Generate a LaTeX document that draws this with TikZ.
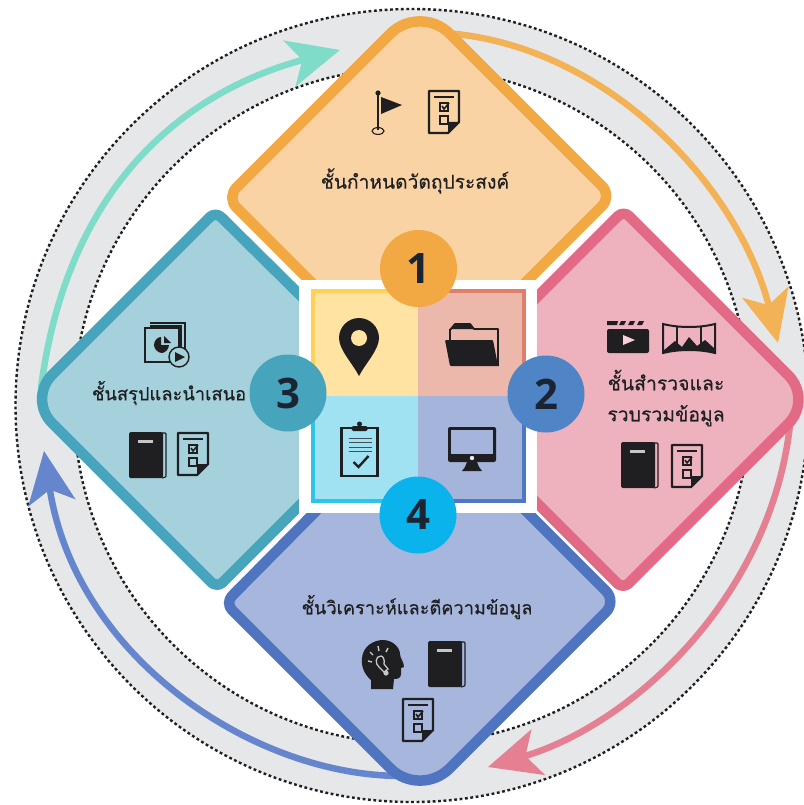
\documentclass[tikz,border=0pt]{standalone}
\usepackage{fontspec}
\usetikzlibrary{arrows.meta}
\newfontfamily\thaifont[Script=Thai,FakeBold=0.35]{Loma}
\newfontfamily\numfont{Open Sans}
\definecolor{ink}{HTML}{1F1F22}
\definecolor{numink}{HTML}{1B2433}
\definecolor{ringgray}{HTML}{E6E7E9}
\definecolor{orgB}{HTML}{F2A944}\definecolor{orgF}{HTML}{FAD3A4}
\definecolor{pnkB}{HTML}{E26A85}\definecolor{pnkF}{HTML}{EEB1BE}
\definecolor{tealB}{HTML}{47A4BD}\definecolor{tealF}{HTML}{A5D1DC}
\definecolor{bluB}{HTML}{4F75C0}\definecolor{bluF}{HTML}{A6B6DC}
\definecolor{qYF}{HTML}{FFE3A3}\definecolor{qYB}{HTML}{FFD257}
\definecolor{qRF}{HTML}{EDB8AC}\definecolor{qRB}{HTML}{DF7F6A}
\definecolor{qCF}{HTML}{A0E1F2}\definecolor{qCB}{HTML}{2FC4E6}
\definecolor{qBF}{HTML}{A5B4DB}\definecolor{qBB}{HTML}{4F78C4}
\definecolor{arrT}{HTML}{7FDCC8}\definecolor{arrO}{HTML}{F3B256}
\definecolor{arrP}{HTML}{E57F92}\definecolor{arrB}{HTML}{6585CC}
\definecolor{disc4}{HTML}{0BB3EC}\definecolor{disc2}{HTML}{4F85C6}
\tikzset{
 x=1pt,y=-1pt,
 dotring/.style={draw=ink,line width=2.4pt,dash pattern=on 2.8pt off 2.6pt},
 diamondbox/.style={line width=10.5pt,line join=round},
 quad/.style={line width=4.5pt},
 numdisc/.style={circle,minimum size=77pt,inner sep=0pt,font=\numfont\bfseries\fontsize{42}{42}\selectfont,text=numink},
 captext/.style={inner sep=0pt,text=ink,align=center,font=\thaifont\fontsize{#1}{31}\selectfont},
 sweep/.style={line width=6.5pt,-{Stealth[length=52pt,width=47pt,inset=13pt]}},
 docicon/.pic={
  \draw[ink,line width=2.4pt,line join=round] (-15,-21) -- (15,-21) -- (15,10) -- (4,21) -- (-15,21) -- cycle;
  \fill[ink] (15,10) -- (4,21) -- (4,10) -- cycle;
  \draw[ink,line width=1.3pt] (-10,-15) -- (10,-15);
  \draw[ink,line width=1.2pt] (-4,-9) rectangle (4,-1);
  \draw[ink,line width=1.2pt] (-4,4) rectangle (4,12);
  \draw[ink,line width=1.6pt] (-2,-6) -- (0,-3) -- (5,-9);
 },
 bookicon/.pic={
  \fill[ink,rounded corners=1.5pt] (-19,-23) rectangle (15,23);
  \draw[ink,line width=1.1pt,rounded corners=1pt] (14,-22) -- (18,-22) -- (18,22) -- (14,23);
  \fill[white!75!ink] (-10,-15) rectangle (5,-12);
 },
 flagicon/.pic={
  \draw[ink,line width=2.2pt] (0,-16) -- (0,19);
  \fill[ink] (0,-18) circle[radius=2.6];
  \fill[ink] (3,-14) -- (24,-6) -- (3,3) -- cycle;
  \draw[ink,line width=1.1pt] (0,20) ellipse[x radius=6,y radius=3.4];
 },
 pinicon/.pic={
  \fill[ink] (-20,0) .. controls (-20,-11) and (-11,-20) .. (0,-20) .. controls (11,-20) and (20,-11) .. (20,0) .. controls (20,12) and (6,26) .. (0,38) .. controls (-6,26) and (-20,12) .. (-20,0) -- cycle;
  \fill[qYF] (0,0) circle[radius=8];
 },
 foldericon/.pic={
  \draw[ink,line width=1.8pt,line join=round] (-22,-14) -- (-17,-20) -- (-2,-20) -- (2,-15) -- (26,-15) -- (26,22);
  \fill[ink] (-17,-20) -- (-2,-20) -- (2,-15) -- (-22,-15) -- cycle;
  \draw[ink,line width=1.8pt] (-22,-15) -- (-22,-4);
  \fill[ink,rounded corners=1pt] (-27,-4) -- (21,-4) -- (26,22) -- (-22,22) -- cycle;
 },
 monitoricon/.pic={
  \fill[ink,rounded corners=2pt] (-24,-18) rectangle (24,17);
  \fill[qBF] (-21,-15) rectangle (21,9);
  \fill[white!70!qBF] (0,13) circle[radius=2.2];
  \fill[ink] (-5,17) -- (5,17) -- (7,22) -- (10,26) -- (-10,26) -- (-7,22) -- cycle;
 },
 clipicon/.pic={
  \draw[ink,line width=2.2pt] (-18,-22) rectangle (18,26);
  \fill[ink,rounded corners=1.5pt] (-8,-24) rectangle (8,-19);
  \fill[ink] (0,-26) circle[radius=2.5];
  \foreach \ly in {-12,-8,-3,1}{\draw[ink!75!qCF,line width=1pt] (-11,\ly) -- (12,\ly);}
  \draw[ink,line width=2.4pt] (-6,12) -- (-1,17) -- (9,6);
 },
 clappericon/.pic={
  \fill[ink,rounded corners=2pt] (-21,-8) rectangle (21,16);
  \fill[ink] (-21,-16) -- (-10,-16) -- (-11,-12) -- (-21,-12) -- cycle;
  \foreach \sx in {-7,2,11}{\fill[ink] (\sx,-16) -- (\sx+5,-16) -- (\sx+3,-12) -- (\sx-2,-12) -- cycle;}
  \fill[pnkF!60!white] (-5,-2) -- (7,3) -- (-5,8) -- cycle;
 },
 panoicon/.pic={
  \fill[ink] (-26,13) -- (-14,3) -- (-7,9) -- (0,-1) -- (8,8) -- (16,2) -- (26,11) -- (26,15) .. controls (10,11) and (-10,11) .. (-26,15) -- cycle;
  \draw[ink,line width=2pt] (-26,-14) .. controls (-10,-10) and (10,-10) .. (26,-14) -- (26,15) .. controls (10,11) and (-10,11) .. (-26,15) -- cycle;
  \draw[ink,line width=1.5pt] (-12,-11) -- (-12,12) (12,-11) -- (12,12);
 },
 slideicon/.pic={
  \draw[ink,line width=1.5pt] (-16,-21) -- (19,-21) -- (19,11);
  \draw[ink,line width=1.5pt] (-16,-18) -- (15,-18) -- (15,10);
  \draw[ink,line width=2.2pt,fill=tealF] (-21,-16) rectangle (13,18);
  \fill[ink] (-12,1) .. controls (-12,-4) and (-8,-7) .. (-5,-7) -- (-5,1) -- (3,1) .. controls (3,5) and (-1,9) .. (-4,9) .. controls (-8,9) and (-12,5) .. (-12,1) -- cycle;
  \fill[ink] (-2,-8) -- (5,-1) -- (-2,-1) -- cycle;
  \draw[ink,line width=1.4pt,fill=tealF] (13,13) circle[radius=10];
  \fill[ink] (9,8) -- (19,13) -- (9,18) -- cycle;
 },
 headicon/.pic={
  \fill[ink] (-11,25) -- (-11,16) .. controls (-18,10) and (-21,2) .. (-20,-6) .. controls (-19,-18) and (-8,-24) .. (1,-24) .. controls (11,-24) and (18,-16) .. (18,-10) .. controls (18,-6) and (22,-2) .. (22,3) -- (19,4) -- (19,10) .. controls (19,14) and (16,15) .. (12,15) -- (11,25) -- cycle;
  \draw[white!75!ink,line width=1.3pt] (-1,-8) .. controls (-7,-8) and (-7,0) .. (-3,3) -- (2,8) -- (6,5) -- (2,0) .. controls (3,-4) and (1,-8) .. (-1,-8) -- cycle;
  \fill[white!75!ink] (4,9) circle[radius=2.6];
  \draw[white!75!ink,line width=1.4pt] (-10,-2) -- (-14,-3) (-9,-9) -- (-12,-12) (-3,-13) -- (-4,-18) (4,-12) -- (6,-16);
 },
}
\begin{document}
\begin{tikzpicture}
\useasboundingbox (0,0) rectangle (803,805);
\fill[white] (0,0) rectangle (803,805);
% ring
\fill[ringgray,even odd rule] (412,405.5) circle[radius=396.5] (412,405.5) circle[radius=338];
\draw[dotring] (412,405.5) circle[radius=396.5];
\draw[dotring] (412,405.5) circle[radius=338];
% connector ends
\coordinate (tealS) at (41,388);
\coordinate (tealE) at (340,50);
\coordinate (orgS) at (445,33);
\coordinate (orgE) at (778,343);
\coordinate (pnkS) at (790,425);
\coordinate (pnkE) at (488,767);
\coordinate (bluS) at (400,776);
\coordinate (bluE) at (44,451);
% connectors
\draw[sweep,draw=arrT] (tealS) .. controls (68,180) and (190,90) .. (tealE);
\draw[sweep,draw=arrO] (orgS) .. controls (610,45) and (740,190) .. (orgE);
\draw[sweep,draw=arrP] (pnkS) .. controls (770,600) and (630,725) .. (pnkE);
\draw[sweep,draw=arrB] (bluS) .. controls (250,775) and (75,655) .. (bluE);
% diamonds
\filldraw[diamondbox,draw=orgB,fill=orgF,rounded corners=42pt] (420,4) [rounded corners=14pt] -- (612,196) [sharp corners] -- (520,288) -- (317,288) [rounded corners=14pt] -- (226.5,197.5) [rounded corners=42pt] -- cycle;
\filldraw[diamondbox,draw=pnkB,fill=pnkF] (623.5,210.5) [rounded corners=34pt] -- (812.5,399.5) [rounded corners=8pt] -- (623,589) [sharp corners] -- (530,496) -- (530,304) [rounded corners=8pt] -- cycle;
\filldraw[diamondbox,draw=tealB,fill=tealF] (28,399) [rounded corners=8pt] -- (217,588) [sharp corners] -- (305,500) -- (305,300) [rounded corners=8pt] -- (215.5,211.5) [rounded corners=34pt] -- cycle;
\filldraw[diamondbox,draw=bluB,fill=bluF,rounded corners=42pt] (420,798) [rounded corners=15pt] -- (616.5,601.5) [sharp corners] -- (520,505) -- (322,505) [rounded corners=10pt] -- (225,603) [rounded corners=42pt] -- cycle;
% centre square
\fill[white] (299,280) rectangle (537,513);
\fill[qYF] (311,289) rectangle (418,396);
\fill[qRF] (418,289) rectangle (526,396);
\fill[qCF] (311,396) rectangle (418,503);
\fill[qBF] (418,396) rectangle (526,503);
\draw[quad,qYB] (313,396) -- (313,291) -- (418,291);
\draw[quad,qRB] (418,291) -- (524,291) -- (524,396);
\draw[quad,qCB] (313,396) -- (313,501) -- (418,501);
\draw[quad,qBB] (418,501) -- (524,501) -- (524,396);
% discs
\node[numdisc,fill=orgB] (n1) at (418.5,268.5) {1};
\node[numdisc,fill=disc2] (n2) at (546,394) {2};
\node[numdisc,fill=tealB] (n3) at (288,393) {3};
\node[numdisc,fill=disc4] (n4) at (418,515) {4};
% captions
\node[captext=19.2] (c1) at (415,181) {ชั้นกำหนดวัตถุประสงค์};
\node[captext=19.4] (c2) at (666,398) {ชั้นสำรวจและ\\รวบรวมข้อมูล};
\node[captext=18.3] (c3) at (169,393) {ชั้นสรุปและนำเสนอ};
\node[captext=18.2] (c4) at (417,607) {ชั้นวิเคราะห์และตีความข้อมูล};
% icons
\pic at (378,111) {flagicon};
\pic at (444,112) {docicon};
\pic at (359,338) {pinicon};
\pic at (472,344) {foldericon};
\pic at (359.5,450) {clipicon};
\pic at (472,445) {monitoricon};
\pic at (628,337) {clappericon};
\pic at (689,338) {panoicon};
\pic at (640,465) {bookicon};
\pic at (687,466) {docicon};
\pic at (166,344) {slideicon};
\pic at (148,455) {bookicon};
\pic at (193,454) {docicon};
\pic at (382,664) {headicon};
\pic at (447,664) {bookicon};
\pic at (418,720) {docicon};
\end{tikzpicture}
\end{document}
